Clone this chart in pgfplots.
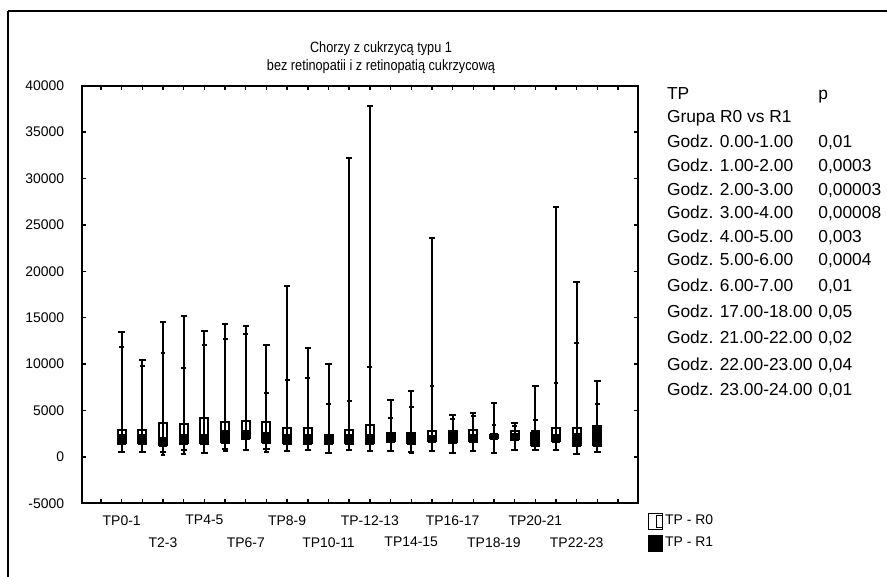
\documentclass[border=0pt]{standalone}
\usepackage{fontspec}
\setmainfont{Liberation Sans}
\newfontfamily\narrowfont[FakeStretch=0.85]{Liberation Sans}
\usepackage{pgfplots}
\pgfplotsset{compat=1.18}

\pgfplotsset{
  r0w/.style={black, line width=1bp, mark=-, mark size=1.6bp, mark options={solid, line width=1bp}, forget plot},
  r1w/.style={black, line width=1bp, mark=-, mark size=1.2bp, mark options={solid, line width=1bp}, forget plot},
  r0b/.style={black, line width=5bp, line cap=butt, forget plot},
  r0i/.style={white, line width=3bp, line cap=butt, shorten <=1bp, shorten >=1bp, forget plot},
  r1b/.style={black, line width=4.4bp, line cap=butt, forget plot},
}
% hour, R0 min, R0 q1, R0 q3, R0 max, R1 min, R1 q1, R1 q3, R1 max
\newcommand{\HR}[9]{%
  \addplot[r0w] coordinates {(#1,#2) (#1,#5)};
  \addplot[r0b] coordinates {(#1,#3) (#1,#4)};
  \addplot[r0i] coordinates {(#1,#3) (#1,#4)};
  \addplot[r1w] coordinates {(#1,#6) (#1,#9)};
  \addplot[r1b] coordinates {(#1,#7) (#1,#8)};
}

\begin{document}
\begin{tikzpicture}
\useasboundingbox (0bp,0bp) rectangle (443.5bp,-288.5bp);
\draw[line width=1bp] (4bp,-5.5bp) -- (443.5bp,-5.5bp);
\draw[line width=1bp] (4bp,-5.5bp) -- (4bp,-288.5bp);

\node[font=\narrowfont\fontsize{7.5}{9}\selectfont] at (190.5bp,-24.5bp) {Chorzy z cukrzycą typu 1};
\node[font=\narrowfont\fontsize{7.5}{9}\selectfont] at (190.5bp,-33.5bp) {bez retinopatii i z retinopatią cukrzycową};

\begin{scope}[every node/.style={font=\fontsize{8.72}{10}\selectfont, anchor=base west, inner sep=0pt}]
\node at (333.3bp,-49.5bp) {TP};              \node at (409bp,-49.5bp) {p};
\node at (333.3bp,-61bp) {Grupa R0 vs R1};
\node at (333.3bp,-73.5bp) {Godz. 0.00-1.00};   \node at (409bp,-73.5bp) {0,01};
\node at (333.3bp,-85.5bp) {Godz. 1.00-2.00};   \node at (409bp,-85.5bp) {0,0003};
\node at (333.3bp,-97.5bp) {Godz. 2.00-3.00};   \node at (409bp,-97.5bp) {0,00003};
\node at (333.3bp,-109.25bp) {Godz. 3.00-4.00}; \node at (409bp,-109.25bp) {0,00008};
\node at (333.3bp,-121bp) {Godz. 4.00-5.00};    \node at (409bp,-121bp) {0,003};
\node at (333.3bp,-132.75bp) {Godz. 5.00-6.00}; \node at (409bp,-132.75bp) {0,0004};
\node at (333.3bp,-145.5bp) {Godz. 6.00-7.00};  \node at (409bp,-145.5bp) {0,01};
\node at (333.3bp,-158.75bp) {Godz. 17.00-18.00}; \node at (409bp,-158.75bp) {0,05};
\node at (333.3bp,-171.75bp) {Godz. 21.00-22.00}; \node at (409bp,-171.75bp) {0,02};
\node at (333.3bp,-185bp) {Godz. 22.00-23.00};    \node at (409bp,-185bp) {0,04};
\node at (333.3bp,-197.75bp) {Godz. 23.00-24.00}; \node at (409bp,-197.75bp) {0,01};
\end{scope}

\begin{axis}[
  at={(40.85bp,-251.65bp)}, anchor=south west,
  scale only axis, width=278.3bp, height=208.8bp,
  xmin=-1.934, xmax=24.98, ymin=-5000, ymax=40000,
  axis line style={line width=1bp},
  every tick/.style={black, line width=0.7bp},
  major tick length=2.2bp, minor tick length=2.2bp,
  tick align=inside,
  xtick={0,4,8,12,16,20},
  xticklabels={TP0-1,TP4-5,TP8-9,TP-12-13,TP16-17,TP20-21},
  extra x ticks={2,6,10,14,18,22},
  extra x tick labels={T2-3,TP6-7,TP10-11,TP14-15,TP18-19,TP22-23},
  extra x tick style={xticklabel style={yshift=-11bp}},
  minor xtick={-1,0,...,24},
  ytick={-5000,0,5000,10000,15000,20000,25000,30000,35000,40000},
  scaled y ticks=false,
  /pgf/number format/1000 sep={},
  /pgf/number format/assume math mode=true,
  tick label style={font=\fontsize{7}{8}\selectfont},
  xticklabel style={yshift=-2.5bp},
  yticklabel style={xshift=-5.3bp},
  legend style={at={(axis description cs:1.017,-0.022)}, anchor=north west,
    draw=none, fill=none, inner sep=0pt, font=\fontsize{7}{8}\selectfont,
    row sep=2.5bp, nodes={inner sep=1bp}},
  legend cell align=left,
]
\addlegendimage{legend image code/.code={\path (-3.5bp,-4bp) rectangle (3.5bp,4bp);
      \draw[black, fill=white, line width=0.5bp] (0.5bp,-3bp) rectangle (3.5bp,3bp);}}
\addlegendentry{TP - R0}
\addlegendimage{legend image code/.code={\fill[black] (-3.5bp,-4bp) rectangle (3.5bp,4bp);}}
\addlegendentry{TP - R1}
\HR{0}{540}{1400}{3060}{13480}{540}{1260}{2520}{11860}
\HR{1}{540}{1400}{3000}{10430}{540}{1260}{2500}{9780}
\HR{2}{540}{1200}{3770}{14490}{180}{1080}{2160}{11150}
\HR{3}{700}{1400}{3600}{15200}{360}{1260}{2520}{9600}
\HR{4}{430}{1400}{4250}{13600}{430}{1260}{2500}{12040}
\HR{5}{850}{1500}{3850}{14270}{610}{1370}{2880}{12660}
\HR{6}{790}{1900}{4030}{14090}{790}{1800}{2880}{13230}
\HR{7}{850}{1550}{3850}{12040}{540}{1440}{2700}{6940}
\HR{8}{650}{1400}{3170}{18370}{650}{1260}{2520}{8340}
\HR{9}{790}{1400}{3170}{11690}{790}{1260}{2520}{8450}
\HR{10}{430}{1400}{2500}{9990}{430}{1260}{2340}{5680}
\HR{11}{790}{1400}{3060}{32170}{790}{1260}{2520}{6000}
\HR{12}{610}{1400}{3530}{37810}{610}{1260}{2520}{9640}
\HR{13}{650}{1600}{2700}{6110}{650}{1500}{2520}{4200}
\HR{14}{550}{1400}{2700}{7080}{430}{1260}{2700}{5390}
\HR{15}{610}{1600}{2950}{23610}{610}{1500}{2340}{7620}
\HR{16}{430}{1550}{2900}{4500}{430}{1440}{2950}{4100}
\HR{17}{650}{1600}{3060}{4740}{650}{1500}{2520}{4450}
\HR{18}{430}{1900}{2500}{5820}{430}{1800}{2600}{3420}
\HR{19}{790}{1800}{2880}{3670}{790}{1700}{2600}{3300}
\HR{20}{790}{1200}{2700}{7660}{790}{1080}{2880}{3960}
\HR{21}{720}{1600}{3240}{26900}{720}{1500}{2520}{7980}
\HR{22}{360}{1200}{3170}{18800}{360}{1080}{2600}{12300}
\HR{23}{540}{1200}{3420}{8160}{540}{1080}{3240}{5750}
\end{axis}
\end{tikzpicture}
\end{document}
